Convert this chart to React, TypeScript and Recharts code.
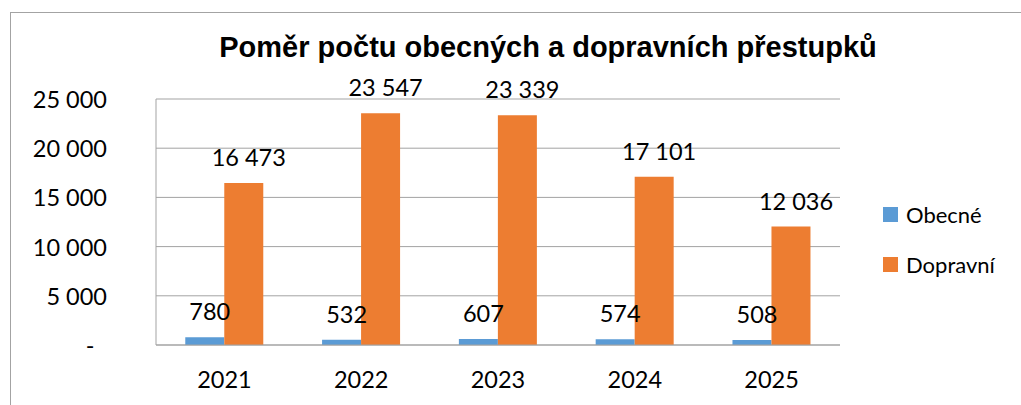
import { BarChart, Bar, XAxis, YAxis, CartesianGrid, Legend, LabelList } from "recharts";

const years = ["2021", "2022", "2023", "2024", "2025"];
const obecne = [780, 532, 607, 574, 508];
const dopravni = [16473, 23547, 23339, 17101, 12036];
const yTicks = [0, 5000, 10000, 15000, 20000, 25000];
const seriesNames = ["Obecné", "Dopravní"];

const COLORS = {
  obecne: "#5b9bd5",
  dopravni: "#ed7d31",
};

const FONT = "Lato, 'Open Sans', sans-serif";
const TITLE_FONT = '"Liberation Sans", Arial, sans-serif';
const GRID = "#a3a3a3";

const data = years.map((year, i) => ({
  year,
  obecne: obecne[i],
  dopravni: dopravni[i],
}));

// thousands with a (non-breaking) space, like the Czech Excel format
const fmt = (v: number) => String(v).replace(/\B(?=(\d{3})+(?!\d))/g, "\u00a0");

function YTick({ y, payload }: any) {
  if (payload.value === 0) {
    return (
      <text x={90} y={y} textAnchor="middle" dominantBaseline="central" fontSize={23.5} fontFamily={FONT} fill="#000">
        -
      </text>
    );
  }
  return (
    <text x={107} y={y} textAnchor="end" dominantBaseline="central" fontSize={23.5} fontFamily={FONT} fill="#000">
      {fmt(payload.value)}
    </text>
  );
}

function LegendBox({ payload }: any) {
  const items = [...(payload || [])].sort(
    (a: any, b: any) => seriesNames.indexOf(a.value) - seriesNames.indexOf(b.value)
  );
  return (
    <div style={{ fontFamily: FONT, fontSize: 22, color: "#000" }}>
      {items.map((item: any) => (
        <div key={item.value} style={{ display: "flex", alignItems: "center", height: 50 }}>
          <span style={{ width: 15, height: 15, background: item.color, marginRight: 8, display: "inline-block" }} />
          {item.value}
        </div>
      ))}
    </div>
  );
}

export default function App() {
  return (
    <div style={{ position: "absolute", left: 0, top: 0, width: 1021, height: 405, overflow: "hidden", background: "#fff" }}>
      <div
        style={{
          position: "absolute",
          left: 10,
          top: 12,
          width: 1100,
          height: 500,
          borderLeft: `1.5px solid ${GRID}`,
          borderTop: `1.5px solid ${GRID}`,
        }}
      />
      <svg width={1021} height={80} style={{ position: "absolute", left: 0, top: 0 }}>
        <text
          x={548}
          y={57}
          textAnchor="middle"
          fontFamily={TITLE_FONT}
          fontWeight="bold"
          fontSize={29}
          fill="#000"
        >
          Poměr počtu obecných a dopravních přestupků
        </text>
      </svg>
      <BarChart
        width={1021}
        height={405}
        data={data}
        margin={{ top: 99, right: 181, left: 0, bottom: 0 }}
        barCategoryGap="21.4%"
        barGap={0}
      >
        <CartesianGrid vertical={false} stroke={GRID} />
        <XAxis
          dataKey="year"
          height={60}
          axisLine={{ stroke: GRID }}
          tickLine={false}
          tickMargin={20}
          tick={{ fontSize: 23.5, fontFamily: FONT, fill: "#000" }}
        />
        <YAxis
          width={156}
          domain={[0, 25000]}
          ticks={yTicks}
          axisLine={{ stroke: GRID }}
          tickLine={false}
          tick={<YTick />}
        />
        <Legend
          layout="horizontal"
          verticalAlign="middle"
          content={<LegendBox />}
          wrapperStyle={{ position: "absolute", left: 883, top: 189, width: 130 }}
        />
        <Bar dataKey="obecne" name="Obecné" fill={COLORS.obecne} isAnimationActive={false}>
          <LabelList
            dataKey="obecne"
            position="top"
            offset={17}
            dx={5}
            formatter={(v: any) => fmt(Number(v))}
            style={{ fontSize: 23.5, fontFamily: FONT, fill: "#000" }}
          />
        </Bar>
        <Bar dataKey="dopravni" name="Dopravní" fill={COLORS.dopravni} isAnimationActive={false}>
          <LabelList
            dataKey="dopravni"
            position="top"
            offset={17}
            dx={5}
            formatter={(v: any) => fmt(Number(v))}
            style={{ fontSize: 23.5, fontFamily: FONT, fill: "#000" }}
          />
        </Bar>
      </BarChart>
    </div>
  );
}
